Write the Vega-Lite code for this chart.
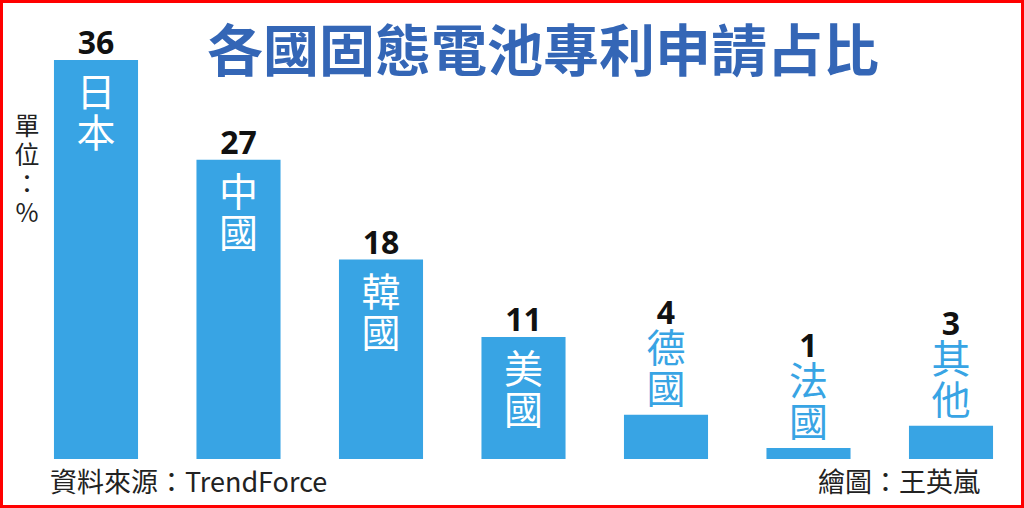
{
  "$schema": "https://vega.github.io/schema/vega-lite/v6.json",
  "width": 1024,
  "height": 508,
  "padding": 0,
  "autosize": {"type": "none"},
  "background": "#ffffff",
  "config": {
    "view": {"stroke": "#ff0000", "strokeWidth": 6},
    "font": "Noto Sans CJK TC"
  },
  "title": {
    "text": "各國固態電池專利申請占比",
    "font": "Noto Sans CJK TC",
    "fontSize": 56,
    "fontWeight": "bold",
    "color": "#3466b6",
    "anchor": "middle",
    "frame": "group",
    "baseline": "alphabetic",
    "offset": -127,
    "dx": 31
  },
  "datasets": {
    "bars": [
      {"country": "日本", "name": "日\n本", "value": 36, "inside": true},
      {"country": "中國", "name": "中\n國", "value": 27, "inside": true},
      {"country": "韓國", "name": "韓\n國", "value": 18, "inside": true},
      {"country": "美國", "name": "美\n國", "value": 11, "inside": true},
      {"country": "德國", "name": "德\n國", "value": 4, "inside": false},
      {"country": "法國", "name": "法\n國", "value": 1, "inside": false},
      {"country": "其他", "name": "其\n他", "value": 3, "inside": false}
    ],
    "notes": [
      {"country": "日本", "level": 31, "label": "單\n位\n：\n%", "kind": "unit"},
      {"country": "日本", "level": -3, "label": "資料來源：TrendForce", "kind": "source"},
      {"country": "其他", "level": -3, "label": "繪圖：王英嵐", "kind": "credit"}
    ]
  },
  "layer": [
    {
      "data": {"name": "bars"},
      "encoding": {
        "x": {
          "field": "country",
          "type": "nominal",
          "sort": null,
          "axis": null,
          "scale": {"range": [24.75, 1022.25], "paddingInner": 0.41, "paddingOuter": 0.205}
        },
        "y": {
          "field": "value",
          "type": "quantitative",
          "axis": null,
          "scale": {"domain": [0, 36], "range": [459, 60], "nice": false, "zero": true}
        }
      },
      "layer": [
        {"mark": {"type": "bar", "color": "#38a4e4"}},
        {
          "transform": [{"filter": "datum.inside"}],
          "mark": {"type": "text", "color": "#ffffff", "fontSize": 39, "lineHeight": 41, "lineBreak": "\n", "baseline": "top", "dy": 15, "font": "Noto Sans CJK TC"},
          "encoding": {"text": {"field": "name"}}
        },
        {
          "transform": [{"filter": "!datum.inside"}],
          "mark": {"type": "text", "color": "#38a4e4", "fontSize": 39, "lineHeight": 41, "lineBreak": "\n", "baseline": "top", "dy": -84, "font": "Noto Sans CJK TC"},
          "encoding": {"text": {"field": "name"}}
        },
        {
          "transform": [{"filter": "datum.inside"}],
          "mark": {"type": "text", "color": "#111111", "fontSize": 32, "fontWeight": "bold", "baseline": "alphabetic", "dy": -6, "font": "Open Sans"},
          "encoding": {"text": {"field": "value"}}
        },
        {
          "transform": [{"filter": "!datum.inside"}],
          "mark": {"type": "text", "color": "#111111", "fontSize": 32, "fontWeight": "bold", "baseline": "alphabetic", "dy": -91, "font": "Open Sans"},
          "encoding": {"text": {"field": "value"}}
        }
      ]
    },
    {
      "data": {"name": "notes"},
      "encoding": {
        "x": {"field": "country", "type": "nominal", "sort": null, "axis": null},
        "y": {"field": "level", "type": "quantitative", "axis": null},
        "text": {"field": "label"}
      },
      "layer": [
        {
          "transform": [{"filter": "datum.kind == 'unit'"}],
          "mark": {"type": "text", "color": "#222222", "fontSize": 25, "lineHeight": 29, "lineBreak": "\n", "baseline": "top", "align": "center", "dx": -69, "font": "Noto Sans CJK TC"}
        },
        {
          "transform": [{"filter": "datum.kind == 'source'"}],
          "mark": {"type": "text", "color": "#222222", "fontSize": 27, "baseline": "alphabetic", "align": "left", "dx": -46, "font": "Noto Sans CJK TC"}
        },
        {
          "transform": [{"filter": "datum.kind == 'credit'"}],
          "mark": {"type": "text", "color": "#222222", "fontSize": 27, "baseline": "alphabetic", "align": "right", "dx": 29, "font": "Noto Sans CJK TC"}
        }
      ]
    }
  ]
}
